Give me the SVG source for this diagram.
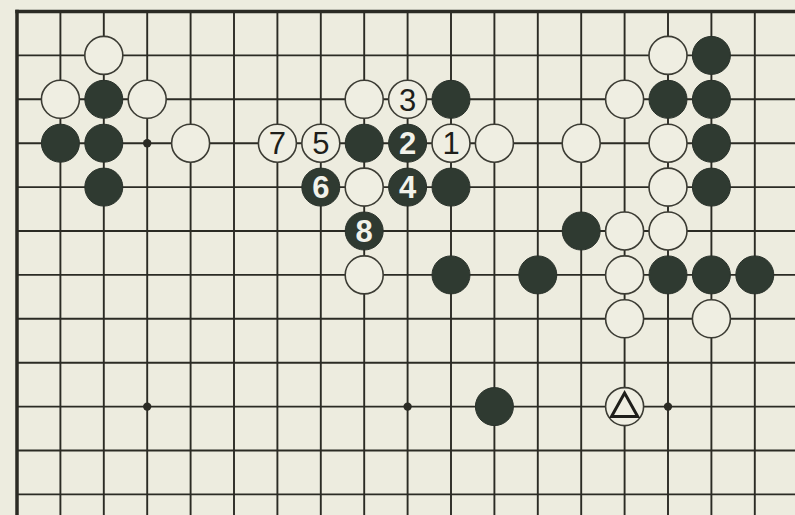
<svg xmlns="http://www.w3.org/2000/svg" width="795" height="515" viewBox="0 0 795 515">
<style>
.bg{fill:#edecdf}
.ln{stroke:#2b2b24;stroke-width:1.9}
.edge{stroke:#2b2b24;stroke-width:3.5}
.w{fill:#efeee2;stroke:#3c3c34;stroke-width:1.6}
.b{fill:#2f3a31;stroke:#2a322b;stroke-width:1}
.hoshi{fill:#2b2b24}
.nw{font-family:"Liberation Sans",Arial,sans-serif;font-size:31px;fill:#1e1e1a;text-anchor:middle}
.nb{font-family:"Liberation Sans",Arial,sans-serif;font-size:31px;fill:#f2f2ea;text-anchor:middle;font-weight:bold}
.tri{fill:none;stroke:#1e1e1a;stroke-width:3;stroke-linejoin:miter}
</style>
<rect class="bg" x="0" y="0" width="795" height="515"/>
<g id="grid">
<g class="ln">
<line x1="60.4" y1="11.5" x2="60.4" y2="515"/>
<line x1="103.8" y1="11.5" x2="103.8" y2="515"/>
<line x1="147.2" y1="11.5" x2="147.2" y2="515"/>
<line x1="190.6" y1="11.5" x2="190.6" y2="515"/>
<line x1="234" y1="11.5" x2="234" y2="515"/>
<line x1="277.4" y1="11.5" x2="277.4" y2="515"/>
<line x1="320.8" y1="11.5" x2="320.8" y2="515"/>
<line x1="364.2" y1="11.5" x2="364.2" y2="515"/>
<line x1="407.6" y1="11.5" x2="407.6" y2="515"/>
<line x1="451" y1="11.5" x2="451" y2="515"/>
<line x1="494.4" y1="11.5" x2="494.4" y2="515"/>
<line x1="537.8" y1="11.5" x2="537.8" y2="515"/>
<line x1="581.2" y1="11.5" x2="581.2" y2="515"/>
<line x1="624.6" y1="11.5" x2="624.6" y2="515"/>
<line x1="668" y1="11.5" x2="668" y2="515"/>
<line x1="711.4" y1="11.5" x2="711.4" y2="515"/>
<line x1="754.8" y1="11.5" x2="754.8" y2="515"/>
<line x1="17" y1="55.4" x2="795" y2="55.4"/>
<line x1="17" y1="99.3" x2="795" y2="99.3"/>
<line x1="17" y1="143.2" x2="795" y2="143.2"/>
<line x1="17" y1="187.1" x2="795" y2="187.1"/>
<line x1="17" y1="231" x2="795" y2="231"/>
<line x1="17" y1="274.9" x2="795" y2="274.9"/>
<line x1="17" y1="318.8" x2="795" y2="318.8"/>
<line x1="17" y1="362.7" x2="795" y2="362.7"/>
<line x1="17" y1="406.6" x2="795" y2="406.6"/>
<line x1="17" y1="450.5" x2="795" y2="450.5"/>
<line x1="17" y1="494.4" x2="795" y2="494.4"/>
</g>
<line class="edge" x1="15.3" y1="11.5" x2="795" y2="11.5"/>
<line class="edge" x1="17" y1="9.8" x2="17" y2="515"/>
<g class="hoshi">
<circle cx="147.2" cy="143.2" r="4.2"/>
<circle cx="147.2" cy="406.6" r="4.2"/>
<circle cx="407.6" cy="406.6" r="4.2"/>
<circle cx="668" cy="406.6" r="4.2"/>
</g>
</g>
<g id="stones-left">
<g id="w-2-1"><circle class="w" cx="103.8" cy="55.4" r="19"/></g>
<g id="w-1-2"><circle class="w" cx="60.4" cy="99.3" r="19"/></g>
<g id="b-2-2"><circle class="b" cx="103.8" cy="99.3" r="19"/></g>
<g id="w-3-2"><circle class="w" cx="147.2" cy="99.3" r="19"/></g>
<g id="b-1-3"><circle class="b" cx="60.4" cy="143.2" r="19"/></g>
<g id="b-2-3"><circle class="b" cx="103.8" cy="143.2" r="19"/></g>
<g id="w-4-3"><circle class="w" cx="190.6" cy="143.2" r="19"/></g>
<g id="b-2-4"><circle class="b" cx="103.8" cy="187.1" r="19"/></g>
</g>
<g id="stones-center">
<g id="w-8-2"><circle class="w" cx="364.2" cy="99.3" r="19"/></g>
<g id="move-3"><circle class="w" cx="407.6" cy="99.3" r="19"/><text class="nw" x="407.6" y="110.5">3</text></g>
<g id="b-10-2"><circle class="b" cx="451" cy="99.3" r="19"/></g>
<g id="move-7"><circle class="w" cx="277.4" cy="143.2" r="19"/><text class="nw" x="277.4" y="154.4">7</text></g>
<g id="move-5"><circle class="w" cx="320.8" cy="143.2" r="19"/><text class="nw" x="320.8" y="154.4">5</text></g>
<g id="b-8-3"><circle class="b" cx="364.2" cy="143.2" r="19"/></g>
<g id="move-2"><circle class="b" cx="407.6" cy="143.2" r="19"/><text class="nb" x="407.6" y="154.4">2</text></g>
<g id="move-1"><circle class="w" cx="451" cy="143.2" r="19"/><text class="nw" x="451" y="154.4">1</text></g>
<g id="w-11-3"><circle class="w" cx="494.4" cy="143.2" r="19"/></g>
<g id="move-6"><circle class="b" cx="320.8" cy="187.1" r="19"/><text class="nb" x="320.8" y="198.3">6</text></g>
<g id="w-8-4"><circle class="w" cx="364.2" cy="187.1" r="19"/></g>
<g id="move-4"><circle class="b" cx="407.6" cy="187.1" r="19"/><text class="nb" x="407.6" y="198.3">4</text></g>
<g id="b-10-4"><circle class="b" cx="451" cy="187.1" r="19"/></g>
<g id="move-8"><circle class="b" cx="364.2" cy="231" r="19"/><text class="nb" x="364.2" y="242.2">8</text></g>
<g id="w-8-6"><circle class="w" cx="364.2" cy="274.9" r="19"/></g>
<g id="b-10-6"><circle class="b" cx="451" cy="274.9" r="19"/></g>
<g id="b-12-6"><circle class="b" cx="537.8" cy="274.9" r="19"/></g>
<g id="b-11-9"><circle class="b" cx="494.4" cy="406.6" r="19"/></g>
<g id="w-14-9-triangle"><circle class="w" cx="624.6" cy="406.6" r="19"/><polygon class="tri" points="624.6,393 611.5,416.5 637.7,416.5"/></g>
</g>
<g id="stones-right">
<g id="w-15-1"><circle class="w" cx="668" cy="55.4" r="19"/></g>
<g id="b-16-1"><circle class="b" cx="711.4" cy="55.4" r="19"/></g>
<g id="w-14-2"><circle class="w" cx="624.6" cy="99.3" r="19"/></g>
<g id="b-15-2"><circle class="b" cx="668" cy="99.3" r="19"/></g>
<g id="b-16-2"><circle class="b" cx="711.4" cy="99.3" r="19"/></g>
<g id="w-13-3"><circle class="w" cx="581.2" cy="143.2" r="19"/></g>
<g id="w-15-3"><circle class="w" cx="668" cy="143.2" r="19"/></g>
<g id="b-16-3"><circle class="b" cx="711.4" cy="143.2" r="19"/></g>
<g id="w-15-4"><circle class="w" cx="668" cy="187.1" r="19"/></g>
<g id="b-16-4"><circle class="b" cx="711.4" cy="187.1" r="19"/></g>
<g id="b-13-5"><circle class="b" cx="581.2" cy="231" r="19"/></g>
<g id="w-14-5"><circle class="w" cx="624.6" cy="231" r="19"/></g>
<g id="w-15-5"><circle class="w" cx="668" cy="231" r="19"/></g>
<g id="w-14-6"><circle class="w" cx="624.6" cy="274.9" r="19"/></g>
<g id="b-15-6"><circle class="b" cx="668" cy="274.9" r="19"/></g>
<g id="b-16-6"><circle class="b" cx="711.4" cy="274.9" r="19"/></g>
<g id="b-17-6"><circle class="b" cx="754.8" cy="274.9" r="19"/></g>
<g id="w-14-7"><circle class="w" cx="624.6" cy="318.8" r="19"/></g>
<g id="w-16-7"><circle class="w" cx="711.4" cy="318.8" r="19"/></g>
</g>
</svg>
